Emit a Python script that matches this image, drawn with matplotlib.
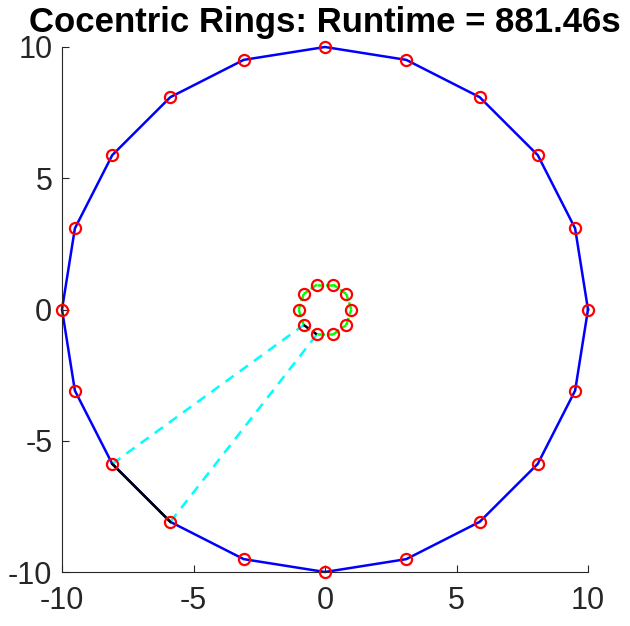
import matplotlib
matplotlib.use("Agg")
import matplotlib.pyplot as plt

# Outer ring vertices
outer_x = [10, 9.51, 8.09, 5.88, 3.09, 0, -3.09, -5.88, -8.09, -9.51,
           -10, -9.51, -8.09, -5.88, -3.09, 0, 3.09, 5.88, 8.09, 9.51]
outer_y = [0, 3.09, 5.88, 8.09, 9.51, 10, 9.51, 8.09, 5.88, 3.09,
           0, -3.09, -5.88, -8.09, -9.51, -10, -9.51, -8.09, -5.88, -3.09]
# Inner ring vertices
inner_x = [1, 0.81, 0.31, -0.31, -0.81, -1, -0.81, -0.31, 0.31, 0.81]
inner_y = [0, 0.59, 0.95, 0.95, 0.59, 0, -0.59, -0.95, -0.95, -0.59]

# Highlighted edges (indices)
outer_edge = (12, 13)
inner_edge = (6, 7)
# Connections outer index -> inner index
links = [(12, 6), (13, 7)]

ticks = [-10, -5, 0, 5, 10]
title = "Cocentric Rings: Runtime = 881.46s"

plt.rcParams['font.family'] = ['Liberation Sans', 'DejaVu Sans']
fig = plt.figure(figsize=(6.30, 6.26), dpi=100)
ax = fig.add_axes([62/630, (626-572)/626, (588-62)/630, (572-47)/626])

# outer ring (closed)
ox = outer_x + [outer_x[0]]
oy = outer_y + [outer_y[0]]
ax.plot(ox, oy, color='#0000ff', lw=1.8, zorder=2, clip_on=False)
a, b = outer_edge
ax.plot([outer_x[a], outer_x[b]], [outer_y[a], outer_y[b]], color='black', lw=1.8, zorder=3, clip_on=False)

# inner ring, dashed green excluding highlighted edge
n = len(inner_x)
for i in range(n):
    j = (i + 1) % n
    if (i, j) == inner_edge:
        ax.plot([inner_x[i], inner_x[j]], [inner_y[i], inner_y[j]], color='black', lw=1.8,
                ls=(0, (3, 1.5)), zorder=3)
    else:
        ax.plot([inner_x[i], inner_x[j]], [inner_y[i], inner_y[j]], color='#00ff00', lw=1.8,
                ls=(0, (3, 1.5)), zorder=2)

# cyan links
for oi, ii in links:
    ax.plot([outer_x[oi], inner_x[ii]], [outer_y[oi], inner_y[ii]], color='#00ffff', lw=1.8,
            ls=(0, (4, 3)), zorder=2)

# markers
ax.plot(outer_x, outer_y, ls='none', marker='o', ms=8, mfc='none', mec='#ff0000', mew=1.6,
        zorder=4, clip_on=False)
ax.plot(inner_x, inner_y, ls='none', marker='o', ms=8, mfc='none', mec='#ff0000', mew=1.6,
        zorder=4, clip_on=False)

ax.set_xlim(-10, 10)
ax.set_ylim(-10, 10)
ax.set_xticks(ticks)
ax.set_yticks(ticks)
ax.set_xticklabels([str(t) for t in ticks])
ax.set_yticklabels([str(t) for t in ticks])
for s in ['top', 'right']:
    ax.spines[s].set_visible(False)
for s in ['left', 'bottom']:
    ax.spines[s].set_color('#262626')
    ax.spines[s].set_linewidth(0.8)
ax.tick_params(direction='in', length=5, width=0.8, color='#262626', labelcolor='#262626',
               labelsize=22)
ax.tick_params(axis='x', pad=10)
ax.tick_params(axis='y', pad=7)
ax.set_title(title, fontsize=25, fontweight='bold', pad=11)

fig.savefig("out.png", dpi=100)
